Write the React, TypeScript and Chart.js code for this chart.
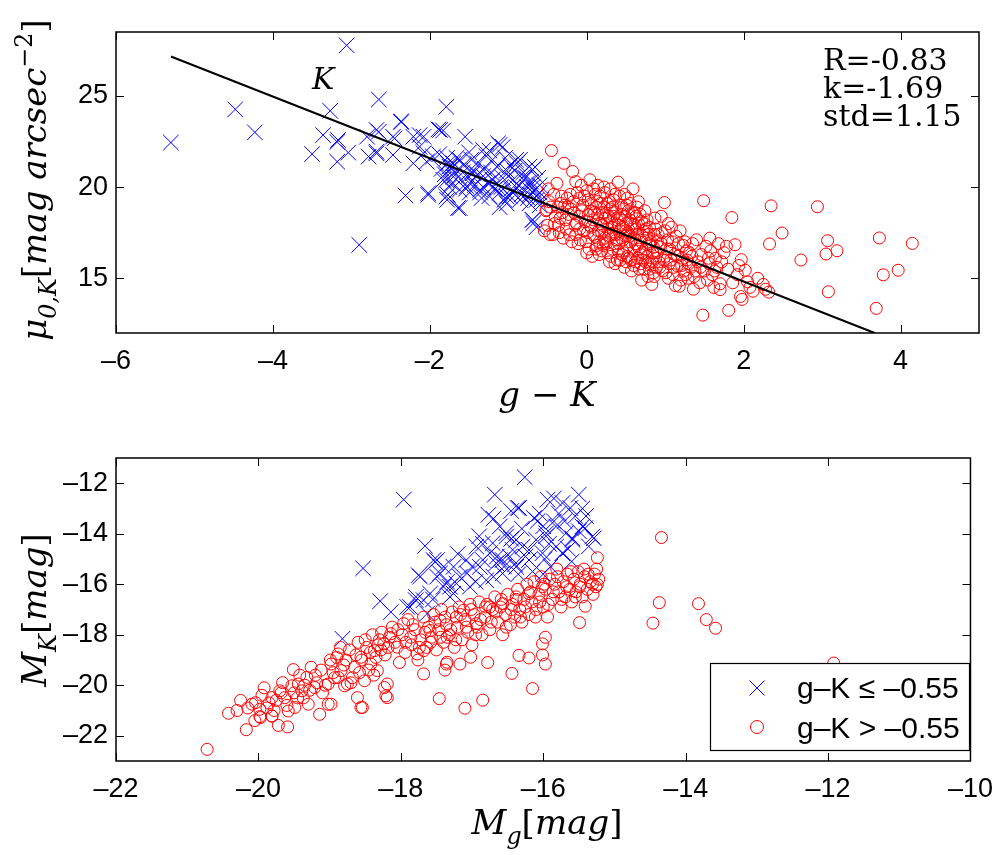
import React, { useEffect, useRef } from 'react';
import { Chart, registerables } from 'chart.js';
Chart.register(...registerables);

// ---------- tick labels ----------
const topXTicks = [-6, -4, -2, 0, 2, 4];
const topYTicks = [15, 20, 25];
const botXTicks = [-22, -20, -18, -16, -14, -12, -10];
const botYTicks = [-22, -20, -18, -16, -14, -12];

// ---------- fit line (top panel) ----------
const fitK = -1.69;
const fitB = 18.2;
const fitX = [-5.3, 3.67];

// ---------- top panel: g-K vs mu_0,K ----------
const topBlue: number[][] = [
  [-5.30, 22.44], [-4.48, 24.26], [-4.23, 23.0], [-3.06, 27.77], [-3.27, 24.18], [-2.65, 24.8], [-1.79, 24.4],
  [-3.50, 21.81], [-3.36, 22.85], [-3.18, 22.47], [-3.18, 21.39], [-3.04, 21.89], [-2.90, 16.83], [-2.78, 21.67],
  [-2.68, 21.94], [-2.65, 23.03], [-2.80, 22.76], [-2.47, 21.76], [-2.36, 23.58], [-2.47, 22.76], [-2.21, 21.30],
  [-2.31, 19.54], [-2.13, 22.85], [-2.08, 21.85], [-2.02, 19.57], [-1.87, 23.13], [-1.96, 21.67], [-1.55, 22.76],
  [-1.75, 21.12], [-1.64, 18.85], [-1.79, 19.48], [-1.70, 20.57], [-1.32, 22.03], [-1.11, 22.31], [-1.45, 20.76],
  [-1.20, 20.39], [-0.90, 21.49], [-0.68, 18.03], [-0.81, 20.57], [-1.02, 19.48], [-0.73, 21.12], [-0.64, 19.30],
  [-1.36, 19.85], [-1.53, 20.03], [-3.17, 22.58], [-2.68, 21.85], [-2.68, 23.13], [-2.37, 23.58], [-2.45, 22.67],
  [-2.21, 22.76], [-2.08, 22.76], [-1.89, 23.16], [-2.13, 22.21], [-2.04, 21.39], [-2.02, 19.67], [-1.75, 20.94],
  [-1.79, 20.39], [-1.70, 21.30], [-1.77, 19.57], [-1.83, 23.1], [-1.24, 22.0], [-1.13, 22.4], [-1.04, 21.6],
  [-0.85, 21.5], [-0.66, 21.1], [-1.78, 21.6], [-1.70, 21.1], [-1.58, 20.8], [-1.45, 20.9], [-1.32, 20.6],
  [-1.20, 20.4], [-1.07, 20.5], [-0.94, 20.4], [-0.76, 20.2], [-0.69, 20.0], [-0.60, 19.7], [-1.83, 20.4],
  [-1.75, 20.0], [-1.62, 19.85], [-1.49, 19.7], [-1.36, 19.7], [-1.24, 19.5], [-1.11, 19.7], [-0.98, 19.5],
  [-0.85, 19.3], [-0.73, 19.1], [-0.60, 19.0], [-1.62, 18.85], [-1.78, 19.3], [-1.11, 18.9], [-0.69, 18.2],
  [-0.64, 17.8], [-1.40, 21.3], [-1.62, 21.5], [-1.02, 20.9], [-0.81, 20.8], [-1.32, 20.0], [-0.89, 19.95],
  [-1.20, 21.5], [-1.49, 20.2], [-0.73, 19.6], [-0.60, 20.1], [-1.20, 20.0], [-1.07, 22.2], [-0.89, 21.3],
  [-0.69, 20.95], [-0.76, 20.0], [-0.94, 19.7], [-0.64, 19.5], [-0.69, 18.2], [-1.02, 19.1],
  [-1.85, 21.0], [-1.81, 20.7], [-1.77, 21.3], [-1.72, 20.2], [-1.68, 20.8], [-1.66, 21.6], [-1.60, 20.4],
  [-1.57, 21.2], [-1.54, 19.9], [-1.51, 20.6], [-1.47, 21.5], [-1.43, 20.1], [-1.39, 20.7], [-1.34, 19.4],
  [-1.30, 21.0], [-1.26, 20.2], [-1.22, 20.8], [-1.17, 19.9], [-1.14, 21.1], [-1.09, 20.0], [-1.05, 19.3],
  [-1.00, 20.6], [-0.96, 19.9], [-0.92, 20.9], [-0.87, 20.1], [-0.83, 19.6], [-0.78, 20.5], [-0.75, 19.4],
  [-0.71, 20.3], [-0.67, 19.8], [-0.62, 20.5], [-0.58, 19.3], [-1.88, 21.8], [-1.50, 21.9], [-1.28, 21.7],
  [-0.98, 21.2],
];

const topRed: number[][] = [
  [-0.52, 18.7], [-0.49, 19.9], [-0.45, 22.0], [-0.38, 20.2], [-0.51, 18.75], [-0.47, 17.4], [-0.54, 17.6],
  [-0.43, 17.4], [-0.36, 17.9], [-0.40, 18.4], [-0.33, 19.1], [-0.29, 21.3], [-0.48, 19.2], [-0.35, 17.5],
  [-0.31, 18.6], [-0.42, 19.6], [-0.37, 18.9], [-0.30, 17.2],
  [-0.18, 20.85], [-0.22, 17.39], [-0.27, 18.2], [-0.25, 19.4], [-0.20, 18.8], [-0.15, 17.9], [-0.12, 19.7],
  [-0.10, 18.4], [-0.08, 17.1], [-0.05, 19.0], [-0.02, 18.1], [0.00, 16.39], [-0.26, 17.7], [-0.17, 19.2],
  [-0.13, 18.0], [-0.07, 20.1], [-0.04, 17.6], [-0.23, 18.5], [-0.19, 17.0], [-0.11, 16.9], [-0.09, 19.4],
  [-0.28, 19.0], [-0.14, 20.3],
  [0.04, 20.4], [0.03, 16.6], [0.02, 19.3], [0.05, 18.7], [0.06, 17.8], [0.08, 18.2], [0.09, 19.9], [0.10, 17.3],
  [0.12, 18.9], [0.13, 16.8], [0.14, 18.5], [0.15, 17.6], [0.17, 19.5], [0.18, 18.0], [0.19, 16.5], [0.20, 17.9],
  [0.21, 18.6], [0.22, 20.0], [0.23, 17.2], [0.24, 18.3], [0.25, 16.9], [0.26, 19.1], [0.27, 17.7], [0.28, 18.4],
  [0.29, 15.9], [0.01, 17.5], [0.07, 16.2], [0.11, 19.6], [0.16, 17.0], [0.23, 19.7], [0.27, 16.4], [0.30, 18.8],
  [0.31, 17.4], [0.32, 18.1], [0.33, 16.6], [0.34, 19.3], [0.35, 17.9], [0.36, 15.8], [0.37, 18.6], [0.38, 17.1],
  [0.40, 20.27], [0.41, 16.9], [0.42, 18.3], [0.43, 17.6], [0.44, 19.0], [0.45, 16.3], [0.46, 17.8], [0.47, 18.8],
  [0.48, 15.6], [0.49, 17.3], [0.50, 18.0], [0.51, 16.7], [0.52, 19.4], [0.53, 17.5], [0.54, 16.1], [0.55, 18.2],
  [0.56, 17.0], [0.57, 15.4], [0.58, 18.6], [0.59, 19.9], [0.60, 16.5], [0.33, 18.9], [0.39, 16.0], [0.44, 17.2],
  [0.50, 15.9], [0.55, 19.1], [0.58, 17.7],
  [0.61, 17.9], [0.62, 15.9], [0.63, 18.4], [0.64, 16.8], [0.65, 17.4], [0.66, 19.2], [0.67, 15.5], [0.68, 17.1],
  [0.69, 16.3], [0.70, 18.1], [0.71, 16.0], [0.72, 17.6], [0.73, 15.5], [0.74, 18.7], [0.75, 16.6], [0.76, 17.2],
  [0.78, 15.1], [0.79, 16.9], [0.80, 17.8], [0.81, 15.8], [0.83, 14.66], [0.84, 16.4], [0.85, 15.3], [0.86, 17.4],
  [0.87, 18.3], [0.88, 16.1], [0.89, 15.6], [0.90, 17.0], [0.64, 18.9], [0.70, 14.9], [0.77, 18.2], [0.82, 16.8],
  [0.92, 15.9], [0.94, 16.7], [0.96, 17.5], [0.97, 15.4], [0.99, 19.15], [1.00, 16.2], [1.01, 15.3], [1.03, 17.1],
  [1.05, 15.8], [1.06, 16.6], [1.08, 17.8], [1.10, 15.2], [1.12, 16.3], [1.14, 17.3], [1.15, 15.7], [1.17, 16.9],
  [1.18, 14.56], [1.20, 14.9], [1.22, 16.1], [1.24, 15.4], [1.25, 17.0], [1.27, 16.5], [1.29, 15.0], [0.95, 18.4],
  [1.04, 18.0], [1.13, 14.6], [1.19, 17.6], [1.28, 16.0],
  [1.31, 16.4], [1.33, 15.6], [1.35, 16.9], [1.37, 15.1], [1.40, 17.11], [1.42, 15.9], [1.44, 14.75], [1.46, 16.3],
  [1.48, 12.98], [1.49, 19.25], [1.50, 15.4], [1.52, 16.75], [1.54, 14.9], [1.56, 15.8], [1.58, 16.5], [1.60, 15.2],
  [1.62, 14.5], [1.64, 16.1], [1.66, 15.6], [1.68, 16.9], [1.70, 14.38], [1.70, 14.7], [1.36, 14.4], [1.57, 17.2],
  [1.72, 15.9], [1.75, 16.4], [1.78, 16.75], [1.81, 13.24], [1.85, 18.33], [1.86, 14.75], [1.89, 16.84], [1.92, 15.2],
  [1.96, 14.0], [1.97, 16.02], [1.98, 13.84], [2.02, 15.44], [2.05, 14.8], [2.12, 14.29], [2.18, 15.0], [2.25, 14.66],
  [2.32, 14.24], [2.33, 16.88], [2.35, 18.97], [2.49, 17.48], [1.80, 15.5], [1.94, 15.7], [2.08, 14.5], [2.28, 14.4],
  [2.73, 16.0], [2.94, 18.92], [3.07, 17.06], [3.05, 16.33], [3.19, 16.51], [3.73, 17.21], [4.15, 16.91], [3.78, 15.19],
  [3.97, 15.44], [3.08, 14.26], [3.69, 13.35],
  [-0.24, 18.9], [-0.21, 19.6], [-0.16, 18.6], [-0.14, 17.4], [-0.06, 18.7], [-0.03, 19.5], [-0.01, 17.0],
  [0.02, 18.5], [0.04, 17.9], [0.06, 19.1], [0.08, 17.4], [0.10, 18.6], [0.12, 16.6], [0.13, 19.2], [0.15, 18.2],
  [0.16, 16.3], [0.18, 19.1], [0.19, 17.5], [0.21, 16.8], [0.22, 18.9], [0.24, 17.0], [0.26, 18.0], [0.28, 17.3],
  [0.29, 19.2], [0.31, 16.2], [0.32, 17.8], [0.34, 18.4], [0.35, 16.9], [0.36, 19.6], [0.37, 17.4], [0.39, 18.2],
  [0.40, 16.5], [0.41, 17.9], [0.42, 19.5], [0.43, 16.0], [0.45, 18.5], [0.46, 17.1], [0.47, 16.4], [0.49, 18.4],
  [0.50, 17.6], [0.51, 19.0], [0.52, 16.2], [0.53, 18.7], [0.54, 17.3], [0.56, 16.0], [0.57, 18.0], [0.59, 17.2],
  [0.60, 15.7], [0.61, 18.6], [0.62, 16.9], [0.63, 17.7], [0.65, 16.1], [0.66, 18.0], [0.67, 16.6], [0.68, 18.5],
  [0.69, 15.8], [0.71, 17.3], [0.72, 16.4], [0.73, 18.0], [0.75, 15.9], [0.76, 17.7], [0.77, 16.2], [0.79, 17.4],
  [0.80, 15.5], [0.82, 17.0], [0.84, 15.9], [0.85, 16.7], [0.86, 15.1], [0.88, 17.7], [0.90, 16.4], [0.91, 17.4],
  [0.93, 15.6], [0.95, 16.9], [0.98, 16.0], [1.00, 17.6], [1.02, 16.6], [1.04, 15.0], [1.07, 16.0], [1.09, 17.0],
  [1.11, 15.6], [1.16, 16.2], [1.21, 15.7], [1.23, 16.8], [1.26, 15.2], [1.30, 15.8], [1.34, 16.2], [1.38, 15.4],
  [1.45, 15.6], [1.55, 16.1], [1.63, 15.4], [-0.34, 18.3], [-0.41, 18.0], [-0.46, 18.9], [-0.50, 17.9],
  [-0.32, 19.5], [-0.09, 17.7], [0.00, 19.8], [0.14, 20.1], [0.30, 19.9], [0.48, 19.6],
];

// ---------- bottom panel: M_g vs M_K ----------
const botBlue: number[][] = [
  [-17.96, -12.65], [-18.53, -15.37], [-17.66, -14.48], [-18.82, -18.16], [-18.29, -16.67], [-18.14, -17.10],
  [-16.26, -11.76], [-16.68, -12.45], [-16.34, -12.98], [-16.77, -13.25], [-17.75, -15.64], [-17.52, -15.11],
  [-17.79, -16.63], [-17.91, -16.90], [-15.50, -12.45], [-15.73, -12.78], [-15.94, -12.65], [-16.36, -12.98],
  [-15.62, -12.98], [-16.13, -13.38], [-15.85, -13.51], [-15.41, -13.78], [-15.29, -14.18], [-15.59, -14.18],
  [-15.96, -14.1], [-15.73, -14.77], [-16.20, -14.64], [-16.52, -13.98], [-16.57, -15.04], [-16.4, -15.2],
  [-16.7, -15.7], [-15.98, -15.0], [-17.49, -15.04], [-17.73, -15.70], [-16.61, -13.71], [-16.52, -14.11],
  [-16.94, -14.51], [-16.75, -14.77], [-17.26, -15.31], [-17.07, -15.57], [-16.89, -15.31], [-16.66, -15.17],
  [-16.47, -14.91], [-16.29, -14.51], [-16.10, -14.24], [-15.96, -13.98], [-15.82, -13.71], [-15.68, -13.98],
  [-15.82, -14.51], [-16.01, -14.77], [-16.20, -15.04], [-16.38, -15.31], [-16.57, -15.57], [-16.80, -15.84],
  [-17.03, -16.10], [-17.22, -15.97], [-17.40, -16.10], [-17.45, -15.57], [-17.68, -16.63], [-17.59, -16.37],
  [-17.31, -16.50], [-16.71, -14.37], [-16.38, -14.24], [-15.73, -14.77], [-15.59, -14.24], [-15.45, -13.71],
  [-15.31, -14.11], [-16.61, -15.04], [-16.43, -14.64], [-16.85, -15.04], [-17.08, -15.04], [-17.17, -15.70],
  [-17.79, -16.50], [-17.87, -16.90], [-17.54, -15.04], [-17.49, -15.70], [-17.40, -15.31], [-17.31, -16.10],
  [-17.63, -17.16], [-17.26, -16.37], [-16.05, -13.2], [-15.55, -13.3], [-16.9, -14.1], [-16.15, -15.5],
  [-15.9, -15.3], [-15.6, -15.1], [-16.3, -13.8], [-15.4, -13.3], [-16.0, -13.7], [-15.7, -13.5],
  [-17.2, -14.8], [-17.0, -15.3], [-16.85, -14.4], [-16.65, -14.9], [-16.45, -14.2], [-16.25, -14.9],
  [-16.08, -13.5], [-15.92, -14.4], [-15.78, -13.2], [-15.65, -14.6], [-15.50, -13.9], [-15.36, -14.5],
  [-16.55, -15.3], [-16.35, -15.6], [-16.0, -15.6], [-16.95, -15.9], [-17.35, -15.9], [-17.55, -16.6],
  [-16.7, -13.4], [-16.45, -13.1], [-15.85, -12.6], [-15.45, -13.0],
];

const botRed: number[][] = [
  [-20.72, -22.54], [-20.42, -21.11], [-20.17, -21.76], [-19.59, -21.65], [-19.72, -21.59], [-19.98, -21.24],
  [-20.09, -20.75], [-19.81, -21.22], [-19.51, -19.38], [-19.14, -21.15], [-19.02, -20.75], [-18.54, -20.88],
  [-18.19, -20.49], [-17.46, -20.53], [-17.10, -20.91], [-16.85, -20.59], [-17.02, -18.89], [-16.78, -19.10],
  [-16.44, -19.53], [-16.15, -20.13], [-16.34, -18.82], [-16.20, -18.92], [-16.01, -18.36], [-16.01, -18.8],
  [-17.36, -19.16], [-17.38, -19.4], [-15.97, -18.1], [-15.97, -19.16], [-15.49, -17.52], [-15.41, -16.87],
  [-15.24, -14.95], [-15.24, -16.01], [-14.34, -14.15], [-14.37, -16.73], [-14.46, -17.54], [-13.82, -16.77],
  [-13.71, -17.40], [-13.58, -17.74], [-11.92, -19.12],
  [-20.04, -20.69], [-19.98, -20.95], [-19.97, -21.28], [-19.81, -20.49], [-19.81, -21.22], [-19.70, -20.22],
  [-19.63, -20.49], [-19.53, -20.02], [-19.44, -19.95], [-19.39, -20.22], [-19.32, -19.69], [-19.26, -19.29],
  [-19.58, -21.02], [-19.49, -20.88], [-19.30, -20.75], [-19.21, -20.09], [-19.02, -19.95], [-18.98, -19.16],
  [-18.88, -18.76], [-18.84, -19.42], [-18.75, -19.95], [-18.65, -19.29], [-18.56, -18.89], [-18.51, -19.82],
  [-18.42, -19.16], [-18.37, -18.63], [-18.33, -19.42], [-18.24, -18.36], [-18.19, -19.95], [-18.14, -17.96],
  [-18.05, -18.49], [-17.96, -17.56], [-17.86, -18.10], [-17.77, -18.76], [-17.68, -18.63], [-17.59, -17.83],
  [-17.45, -17.43], [-17.35, -18.10], [-17.22, -17.30], [-17.12, -17.03], [-16.94, -17.56], [-16.75, -16.90],
  [-16.57, -16.77], [-16.38, -16.50], [-16.20, -16.37], [-16.01, -16.10],
  [-18.30, -18.2], [-18.27, -17.9], [-18.22, -18.8], [-18.18, -18.5], [-18.12, -17.7], [-18.08, -18.3],
  [-18.02, -19.1], [-17.98, -18.0], [-17.94, -18.7], [-17.90, -17.4], [-17.85, -18.4], [-17.80, -17.8],
  [-17.76, -19.0], [-17.72, -18.2], [-17.68, -17.3], [-17.64, -18.5], [-17.61, -17.7],
  [-17.57, -18.1], [-17.54, -17.2], [-17.50, -18.6], [-17.47, -17.8], [-17.43, -17.0], [-17.40, -18.3],
  [-17.36, -17.6], [-17.32, -18.0], [-17.28, -17.1], [-17.25, -18.5], [-17.21, -17.7], [-17.18, -16.9],
  [-17.14, -18.2], [-17.10, -17.4], [-17.06, -17.9], [-17.03, -16.8], [-17.00, -18.4],
  [-16.97, -17.2], [-16.93, -17.7], [-16.90, -16.7], [-16.86, -18.0], [-16.82, -17.3], [-16.79, -16.8],
  [-16.75, -17.8], [-16.71, -17.0], [-16.68, -16.5], [-16.64, -17.5], [-16.60, -16.9], [-16.57, -18.0],
  [-16.53, -17.2], [-16.50, -16.4], [-16.46, -17.6], [-16.43, -16.8], [-16.40, -17.3],
  [-16.36, -16.2], [-16.33, -17.0], [-16.30, -17.5], [-16.27, -16.6], [-16.23, -16.0], [-16.20, -17.2],
  [-16.16, -16.7], [-16.13, -15.9], [-16.10, -17.0], [-16.06, -16.4], [-16.03, -15.7], [-16.00, -16.9],
  [-15.97, -16.2], [-15.94, -17.3], [-15.91, -15.8], [-15.87, -16.6], [-15.84, -16.0],
  [-15.81, -15.4], [-15.78, -16.3], [-15.75, -16.9], [-15.72, -15.9], [-15.69, -16.5], [-15.66, -15.6],
  [-15.63, -16.2], [-15.60, -16.7], [-15.57, -15.8], [-15.54, -16.3], [-15.51, -15.5], [-15.48, -16.0],
  [-15.45, -16.5], [-15.42, -15.7], [-15.38, -16.2], [-15.34, -15.9], [-15.30, -16.4], [-15.26, -16.1],
  [-15.22, -15.8],
  [-18.95, -19.5], [-18.90, -18.9], [-18.80, -19.2], [-18.72, -18.6], [-18.68, -19.7], [-18.60, -18.3],
  [-18.55, -19.0], [-18.48, -18.5], [-18.45, -19.4], [-18.40, -18.0], [-18.35, -18.9],
  [-19.95, -20.4], [-19.88, -20.9], [-19.75, -20.6], [-19.66, -19.9], [-19.45, -20.5], [-19.35, -20.0],
  [-19.20, -19.6], [-19.10, -20.3], [-20.25, -20.6], [-20.30, -21.0],
  [-17.17, -19.16], [-17.35, -19.09], [-17.68, -19.55], [-18.23, -20.09], [-18.21, -20.42], [-18.56, -20.88],
  [-18.98, -20.75], [-18.61, -20.49], [-18.79, -20.02], [-18.88, -19.69],
  [-18.28, -18.6], [-18.16, -18.1], [-18.04, -17.8], [-17.93, -18.3], [-17.83, -17.6], [-17.74, -18.5],
  [-17.66, -17.9], [-17.58, -18.3], [-17.52, -17.5], [-17.44, -18.1], [-17.38, -17.3], [-17.30, -17.8],
  [-17.23, -18.2], [-17.16, -17.2], [-17.08, -17.7], [-17.01, -17.0], [-16.95, -18.0], [-16.88, -17.4],
  [-16.81, -16.9], [-16.73, -17.5], [-16.66, -17.1], [-16.59, -16.6], [-16.52, -17.7], [-16.45, -17.0],
  [-16.38, -16.6], [-16.32, -17.3], [-16.25, -16.9], [-16.18, -16.3], [-16.11, -17.3], [-16.05, -16.7],
  [-15.99, -16.0], [-15.93, -16.8], [-15.86, -16.3], [-15.80, -15.7], [-15.74, -16.6], [-15.67, -16.1],
  [-15.61, -15.5], [-15.55, -16.5], [-15.49, -16.1], [-15.43, -15.4], [-15.37, -15.6], [-15.31, -16.0],
  [-15.28, -15.6], [-15.25, -15.4],
  [-18.99, -19.0], [-18.93, -19.7], [-18.85, -18.5], [-18.77, -19.0], [-18.70, -19.9], [-18.63, -18.8],
  [-18.58, -19.5], [-18.50, -18.2], [-18.43, -18.7], [-18.38, -19.6], [-18.32, -18.4],
  [-19.92, -20.1], [-19.85, -20.7], [-19.78, -21.0], [-19.68, -20.3], [-19.60, -20.8], [-19.50, -20.3],
  [-19.42, -19.6], [-19.37, -20.5], [-19.28, -20.2], [-19.18, -19.9], [-19.12, -19.4], [-19.06, -20.0],
  [-20.15, -20.9], [-20.05, -21.4],
];

// ---------- helpers ----------
const SERIF = '"DejaVu Serif", serif';
const SANS = '"Liberation Sans", Arial, sans-serif';
const fmt = (v: number) => (v < 0 ? '\u2013' + Math.abs(v) : String(v));
const toPts = (arr: number[][]) => arr.map(([x, y]) => ({ x, y }));

type Seg = { t: string; it?: boolean; sub?: boolean; sup?: boolean };
function drawRich(ctx: CanvasRenderingContext2D, segs: Seg[], cx: number, cy: number, size: number, rot: boolean) {
  ctx.save();
  ctx.translate(cx, cy);
  if (rot) ctx.rotate(-Math.PI / 2);
  const fontOf = (sg: Seg) => `${sg.it ? 'italic ' : ''}${sg.sub || sg.sup ? size * 0.7 : size}px ${SERIF}`;
  let total = 0;
  const widths = segs.map((sg) => {
    ctx.font = fontOf(sg);
    const w = ctx.measureText(sg.t).width;
    total += w;
    return w;
  });
  let x = -total / 2;
  ctx.fillStyle = '#000';
  ctx.textBaseline = 'alphabetic';
  ctx.textAlign = 'left';
  segs.forEach((sg, i) => {
    ctx.font = fontOf(sg);
    const dy = sg.sub ? size * 0.28 : sg.sup ? -size * 0.42 : 0;
    ctx.fillText(sg.t, x, dy);
    x += widths[i];
  });
  ctx.restore();
}

const framePlugin = {
  id: 'matlabFrame',
  afterDatasetsDraw(chart: any) {
    const { ctx, chartArea: a, scales } = chart;
    const tl = 8;
    ctx.save();
    ctx.strokeStyle = '#000';
    ctx.lineWidth = 1;
    ctx.beginPath();
    scales.x.ticks.forEach((t: any) => {
      const p = Math.round(scales.x.getPixelForValue(t.value)) + 0.5;
      ctx.moveTo(p, a.bottom);
      ctx.lineTo(p, a.bottom - tl);
      ctx.moveTo(p, a.top);
      ctx.lineTo(p, a.top + tl);
    });
    scales.y.ticks.forEach((t: any) => {
      const p = Math.round(scales.y.getPixelForValue(t.value)) + 0.5;
      ctx.moveTo(a.left, p);
      ctx.lineTo(a.left + tl, p);
      ctx.moveTo(a.right, p);
      ctx.lineTo(a.right - tl, p);
    });
    ctx.stroke();
    ctx.lineWidth = 1.5;
    ctx.strokeRect(a.left, a.top, a.right - a.left, a.bottom - a.top);
    ctx.restore();
  },
};

function axisOpts(min: number, max: number, ticks: number[], isX: boolean, size: number) {
  return {
    type: 'linear',
    min,
    max,
    afterBuildTicks: (s: any) => {
      s.ticks = ticks.map((v) => ({ value: v }));
    },
    afterFit: (s: any) => {
      if (isX) s.height = size;
      else s.width = size;
    },
    grid: { display: false, drawTicks: false },
    border: { display: false },
    ticks: {
      padding: isX ? 12 : 8,
      color: '#000',
      font: { family: SANS, size: 27 },
      callback: (v: number) => fmt(v),
      maxRotation: 0,
      autoSkip: false,
    },
  };
}

export default function App() {
  const topRef = useRef<HTMLCanvasElement>(null);
  const botRef = useRef<HTMLCanvasElement>(null);

  useEffect(() => {
    const topAnno = {
      id: 'topAnno',
      afterDraw(chart: any) {
        const ctx = chart.ctx as CanvasRenderingContext2D;
        ctx.save();
        ctx.fillStyle = '#000';
        ctx.textAlign = 'left';
        ctx.textBaseline = 'alphabetic';
        ctx.font = `30px ${SERIF}`;
        ctx.fillText('R=-0.83', 823, 70);
        ctx.fillText('k=-1.69', 823, 98);
        ctx.fillText('std=1.15', 823, 126);
        ctx.font = `italic 30px ${SERIF}`;
        ctx.fillText('K', 312, 89);
        ctx.restore();
        drawRich(ctx, [{ t: 'g \u2212 K', it: true }], 547, 406, 34, false);
        drawRich(
          ctx,
          [
            { t: '\u03bc', it: true },
            { t: '0,K', sub: true, it: true },
            { t: '[' },
            { t: 'mag arcsec', it: true },
            { t: '\u22122', sup: true },
            { t: ']' },
          ],
          46,
          180,
          34,
          true
        );
      },
    };

    const botAnno = {
      id: 'botAnno',
      afterDraw(chart: any) {
        const ctx = chart.ctx as CanvasRenderingContext2D;
        const off = 420;
        ctx.save();
        ctx.fillStyle = '#fff';
        ctx.fillRect(710, 663 - off, 259, 87);
        ctx.strokeStyle = '#000';
        ctx.lineWidth = 1.2;
        ctx.strokeRect(710.5, 663.5 - off, 259, 87);
        ctx.strokeStyle = '#0000ff';
        ctx.lineWidth = 1;
        ctx.beginPath();
        const cxm = 757, cy1 = 688 - off, cy2 = 727 - off, d = 7.5;
        ctx.moveTo(cxm - d, cy1 - d);
        ctx.lineTo(cxm + d, cy1 + d);
        ctx.moveTo(cxm - d, cy1 + d);
        ctx.lineTo(cxm + d, cy1 - d);
        ctx.stroke();
        ctx.strokeStyle = '#ff0000';
        ctx.beginPath();
        ctx.arc(cxm, cy2, 6.5, 0, Math.PI * 2);
        ctx.stroke();
        ctx.fillStyle = '#000';
        ctx.font = `30px ${SANS}`;
        ctx.textAlign = 'left';
        ctx.textBaseline = 'alphabetic';
        ctx.fillText('g\u2013K \u2264 \u20130.55', 797, 698 - off);
        ctx.fillText('g\u2013K > \u20130.55', 797, 738 - off);
        ctx.restore();
        drawRich(
          ctx,
          [{ t: 'M', it: true }, { t: 'g', sub: true, it: true }, { t: '[' }, { t: 'mag', it: true }, { t: ']' }],
          547,
          834 - off,
          34,
          false
        );
        drawRich(
          ctx,
          [{ t: 'M', it: true }, { t: 'K', sub: true, it: true }, { t: '[' }, { t: 'mag', it: true }, { t: ']' }],
          46,
          610 - off,
          34,
          true
        );
      },
    };

    const fitLine = fitX.map((x) => ({ x, y: fitB + fitK * x }));

    const topChart = new Chart(topRef.current!, {
      type: 'scatter',
      data: {
        datasets: [
          {
            type: 'line',
            data: fitLine,
            borderColor: '#000',
            borderWidth: 2,
            pointRadius: 0,
            showLine: true,
            order: 0,
          } as any,
          {
            data: toPts(topRed),
            pointStyle: 'circle',
            pointRadius: 6,
            borderColor: '#ff0000',
            backgroundColor: 'rgba(0,0,0,0)',
            borderWidth: 1,
            order: 1,
          },
          {
            data: toPts(topBlue),
            pointStyle: 'crossRot',
            pointRadius: 11,
            borderColor: '#0000ff',
            backgroundColor: '#0000ff',
            borderWidth: 1,
            order: 2,
          },
        ],
      },
      options: {
        responsive: false,
        animation: false,
        events: [],
        layout: { padding: { left: 0, right: 26, top: 32, bottom: 0 } },
        plugins: { legend: { display: false }, tooltip: { enabled: false } },
        scales: {
          x: axisOpts(-6, 5, topXTicks, true, 87) as any,
          y: axisOpts(12, 28.5, topYTicks, false, 116) as any,
        },
      },
      plugins: [framePlugin, topAnno],
    });

    const botChart = new Chart(botRef.current!, {
      type: 'scatter',
      data: {
        datasets: [
          {
            data: toPts(botRed),
            pointStyle: 'circle',
            pointRadius: 6,
            borderColor: '#ff0000',
            backgroundColor: 'rgba(0,0,0,0)',
            borderWidth: 1,
            order: 1,
          },
          {
            data: toPts(botBlue),
            pointStyle: 'crossRot',
            pointRadius: 11,
            borderColor: '#0000ff',
            backgroundColor: '#0000ff',
            borderWidth: 1,
            order: 2,
          },
        ],
      },
      options: {
        responsive: false,
        animation: false,
        events: [],
        layout: { padding: { left: 0, right: 26, top: 38, bottom: 0 } },
        plugins: { legend: { display: false }, tooltip: { enabled: false } },
        scales: {
          x: axisOpts(-22, -10, botXTicks, true, 94) as any,
          y: axisOpts(-23, -11, botYTicks, false, 116) as any,
        },
      },
      plugins: [framePlugin, botAnno],
    });

    return () => {
      topChart.destroy();
      botChart.destroy();
    };
  }, []);

  return (
    <div style={{ position: 'fixed', left: 0, top: 0, width: 1005, height: 855, background: '#fff' }}>
      <canvas ref={topRef} width={1005} height={420} style={{ position: 'absolute', left: 0, top: 0, width: 1005, height: 420 }} />
      <canvas ref={botRef} width={1005} height={435} style={{ position: 'absolute', left: 0, top: 420, width: 1005, height: 435 }} />
    </div>
  );
}
